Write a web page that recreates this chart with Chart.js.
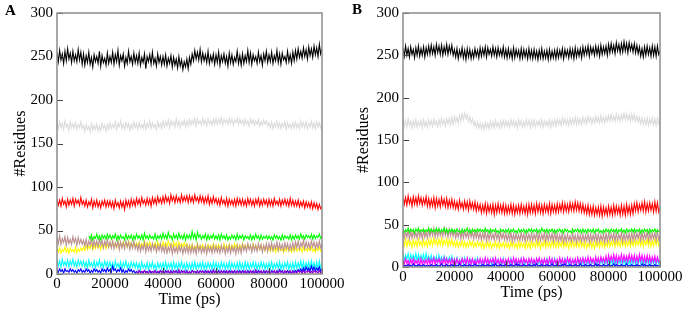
<!DOCTYPE html>
<html>
<head>
<meta charset="utf-8">
<script src="https://cdn.jsdelivr.net/npm/chart.js@4.4.1/dist/chart.umd.min.js"></script>
<style>
  body { margin: 0; background: #fff; }
  #wrap { position: relative; width: 685px; height: 311px; overflow: hidden; }
  canvas { position: absolute; top: 0; }
  .tag { position: absolute; font: bold 15px "Liberation Serif", serif; }
</style>
</head>
<body>
<div id="wrap">
  <canvas id="chartA" width="352" height="311" style="left:0"></canvas>
  <canvas id="chartB" width="345" height="311" style="left:340px"></canvas>
  <div class="tag" style="left:5px;top:2px">A</div>
  <div class="tag" style="left:352px;top:1px">B</div>
</div>
<script>
// sample times (ps), one frame every 500 ps
const TIME = Array.from({ length: 201 }, (_, i) => i * 500);
const xTicks = [0, 20000, 40000, 60000, 80000, 100000];
const yTicks = [0, 50, 100, 150, 200, 250, 300];

// ---- panel A ----
const aBlack = [
  255,244,257,246,253,242,256,245,259,247,254,243,256,245,252,244,258,246,255,241,
  253,240,251,243,255,241,249,238,252,244,250,242,256,239,251,243,248,240,254,242,
  250,243,255,241,252,244,257,240,251,245,253,239,249,242,256,244,250,241,254,243,
  251,242,254,240,249,243,253,236,250,244,252,241,255,242,248,239,253,243,250,240,
  250,241,252,239,248,242,251,238,249,240,247,237,250,239,246,235,244,238,247,236,
  249,241,253,245,257,247,255,246,258,244,254,245,252,243,256,242,251,244,253,241,
  252,243,255,240,251,244,253,242,250,239,254,243,252,241,249,244,256,242,251,240,
  253,242,251,244,257,243,254,241,252,245,250,242,255,244,251,240,253,245,256,243,
  252,244,255,242,251,245,257,243,253,241,254,246,250,243,256,244,252,242,255,245,
  257,247,259,249,256,248,260,250,258,247,261,251,259,249,262,252,260,250,264,253,
  259];
const aGrey = [
  174,167,175,168,173,166,176,169,172,165,175,168,173,167,174,166,172,168,175,167,
  171,164,172,166,170,163,173,165,171,166,172,164,170,165,173,167,171,164,172,166,
  174,167,172,168,175,166,173,169,176,167,172,166,174,168,173,165,172,167,175,168,
  173,166,174,168,172,167,175,166,173,169,176,167,174,168,172,166,175,169,173,167,
  176,169,175,170,177,168,176,171,175,169,178,170,176,168,175,171,177,169,176,170,
  178,171,177,172,179,170,178,173,176,171,179,172,177,170,178,173,176,171,178,172,
  179,172,178,173,180,171,178,174,177,172,179,173,178,171,177,174,179,172,178,173,
  177,171,178,172,176,170,178,173,177,171,176,172,178,170,175,171,177,172,176,170,
  174,168,175,167,173,169,176,168,174,167,173,169,175,166,174,168,172,167,174,168,
  175,168,173,167,176,169,174,168,175,167,173,169,176,168,174,167,175,169,174,168,
  171];
const aRed = [
  86,79,85,78,87,80,84,77,86,79,85,80,87,78,86,81,85,79,88,80,
  84,78,85,77,83,79,86,76,84,78,85,77,83,76,84,79,85,77,84,78,
  84,77,83,75,85,78,82,76,84,77,83,74,85,78,84,77,86,79,85,78,
  87,80,86,79,88,81,85,79,87,80,86,78,88,81,87,80,89,82,87,81,
  89,82,90,83,88,81,91,84,89,82,90,83,88,82,91,83,89,84,90,82,
  90,83,89,82,91,84,88,82,90,83,89,81,88,82,90,80,87,81,89,82,
  87,80,86,79,88,81,85,79,87,78,86,80,85,79,86,78,87,80,86,79,
  86,79,85,78,87,80,86,79,85,78,86,80,87,78,85,79,86,80,85,78,
  86,79,85,78,87,80,84,79,86,78,85,80,86,79,85,78,87,79,85,78,
  84,78,85,77,83,78,84,76,83,77,82,76,83,75,82,76,81,74,80,75,
  77];
const aGreen = [
  null,null,null,null,null,null,null,null,null,null,null,null,null,null,null,null,null,null,null,null,
  null,null,null,null,44,40,45,39,43,41,46,40,44,39,45,41,44,40,46,41,
  45,40,44,41,46,39,44,40,45,41,43,39,46,40,44,41,45,39,44,40,
  46,41,44,40,45,39,47,41,44,40,45,41,43,40,46,39,44,41,45,40,
  47,41,45,40,48,42,44,39,46,41,45,40,47,41,44,40,46,39,45,41,
  45,40,49,41,46,39,48,42,45,40,44,41,46,39,45,40,44,41,46,40,
  44,40,45,39,46,41,44,40,45,39,43,40,45,41,44,39,46,40,44,41,
  45,39,44,41,43,40,45,39,44,40,46,41,44,39,45,40,43,41,44,40,
  44,40,43,39,45,41,44,40,43,39,45,40,44,41,43,40,45,39,44,40,
  45,41,44,40,46,41,44,40,45,42,44,41,46,40,45,41,44,42,46,41,
  44];
const aYellow = [
  29,25,30,24,28,26,31,25,29,24,30,26,28,25,31,24,29,26,30,27,
  31,27,33,28,32,29,34,28,33,29,35,30,33,28,34,30,35,29,34,31,
  36,31,37,32,35,30,38,32,36,31,37,33,35,31,38,32,36,30,37,32,
  36,32,37,31,35,32,38,31,36,33,37,31,35,32,36,30,37,32,35,31,
  37,32,36,31,38,33,35,31,37,32,36,30,37,32,35,31,36,32,35,30,
  33,29,34,28,32,29,35,28,33,30,34,28,32,29,34,30,33,28,35,30,
  33,29,34,30,32,28,35,29,33,30,34,28,33,29,35,30,34,29,33,28,
  35,30,33,29,34,31,32,28,34,29,33,30,31,28,33,29,32,27,31,28,
  30,26,31,27,29,25,31,26,30,27,29,25,30,26,31,27,29,25,30,26,
  31,26,29,27,30,25,31,27,29,26,30,27,31,26,29,25,30,27,31,26,
  29];
const aBrown = [
  42,35,44,34,41,36,43,33,42,35,40,34,43,36,41,33,42,35,40,34,
  39,32,40,31,38,33,41,30,39,32,38,31,40,33,39,30,38,32,40,31,
  37,30,38,29,36,31,39,28,37,30,36,29,38,31,37,28,36,30,38,29,
  34,27,35,26,33,28,36,25,34,27,33,26,35,28,34,25,33,27,35,26,
  32,25,33,24,31,26,34,23,32,25,31,24,33,26,32,23,31,25,33,24,
  32,24,33,25,31,23,34,26,32,24,31,25,33,23,32,26,31,24,33,25,
  32,25,31,24,33,26,32,23,31,25,33,24,32,26,31,23,33,25,32,24,
  34,27,33,26,35,28,33,25,34,27,33,26,35,28,34,25,33,27,35,26,
  35,28,36,27,34,29,37,27,35,28,34,27,36,29,35,27,34,28,36,28,
  37,30,38,29,36,31,39,29,37,30,36,29,38,31,37,29,36,30,38,30,
  34];
const aCyan = [
  16,9,15,8,17,10,14,9,16,8,15,10,17,9,14,8,16,10,15,9,
  15,8,14,7,16,9,13,8,15,7,14,9,16,8,13,7,15,9,14,8,
  14,7,13,6,15,8,12,7,14,6,13,8,15,7,12,6,14,8,13,7,
  13,6,12,5,14,7,11,6,13,5,12,7,14,6,11,5,13,7,12,6,
  13,6,14,5,12,7,13,5,14,6,12,5,13,7,14,6,12,5,13,6,
  12,5,13,6,14,5,12,7,13,6,14,5,12,6,13,7,12,5,14,6,
  13,6,12,5,14,7,13,5,12,6,14,5,13,7,12,6,13,5,14,6,
  12,5,14,6,13,5,12,7,14,6,13,5,12,6,14,7,13,5,12,6,
  13,6,14,5,12,7,13,6,14,5,12,6,13,7,14,5,12,6,13,5,
  14,6,13,7,15,6,14,5,13,7,14,6,15,7,13,6,14,5,15,6,
  12];
const aBlue = [
  5,2,6,3,5,1,6,3,4,2,6,3,5,2,4,1,5,3,6,2,
  4,2,6,3,5,1,4,2,6,3,5,2,4,1,6,3,5,2,7,3,
  5,2,9,4,6,2,5,3,7,2,5,1,4,2,6,3,5,2,4,1,
  3,1,4,2,3,1,4,2,3,1,4,1,3,2,4,1,3,1,4,2,
  3,1,4,2,3,1,4,1,3,2,4,1,3,1,4,2,3,1,4,1,
  2,1,4,2,3,1,3,1,4,2,3,1,4,2,3,1,4,1,3,2,
  3,1,4,1,3,2,4,1,3,1,4,2,3,1,4,1,3,2,4,1,
  4,2,3,1,4,1,3,2,4,1,3,1,4,2,3,1,4,1,3,2,
  3,1,4,2,3,1,4,1,5,2,4,1,3,2,4,1,3,1,4,2,
  4,2,5,3,6,2,7,3,8,4,7,3,9,4,8,3,7,4,8,3,
  6];
const aViolet = [
  null,null,null,null,null,null,null,null,null,null,null,null,null,null,null,null,null,null,null,null,
  null,null,null,null,null,null,null,null,null,null,null,null,null,null,null,null,null,null,null,null,
  null,null,null,null,null,null,null,null,null,null,null,null,null,null,null,null,null,null,null,null,
  3,1,4,1,3,2,4,1,3,1,4,2,3,1,4,1,3,2,4,1,
  4,1,3,2,4,1,3,1,4,2,3,1,5,1,3,2,4,1,3,1,
  3,1,4,2,3,1,4,1,3,2,4,1,3,1,4,2,3,1,5,1,
  4,2,3,1,4,1,3,2,4,1,3,1,4,2,3,1,4,1,3,2,
  3,1,4,1,3,2,4,1,3,1,5,2,3,1,4,1,3,2,4,1,
  4,1,3,2,4,1,3,1,4,2,3,1,4,1,3,2,4,1,3,1,
  3,1,4,2,3,1,4,1,3,2,4,1,3,1,4,2,3,1,4,1,
  3];

// ---- panel B ----
const bBlack = [
  259,249,261,250,258,248,260,251,257,247,259,250,261,249,258,250,260,248,259,251,
  261,251,262,252,260,250,263,253,261,251,262,250,260,252,263,251,261,253,262,250,
  257,248,258,246,256,249,259,247,256,245,258,248,257,246,255,247,258,249,256,247,
  259,249,258,250,260,248,259,251,257,249,260,250,258,248,259,250,257,249,260,248,
  257,247,258,248,256,246,259,247,257,249,256,246,258,247,257,248,256,246,258,247,
  256,246,257,247,255,245,256,247,258,246,255,247,256,245,257,246,255,247,256,246,
  257,247,256,248,258,246,257,249,256,247,258,248,257,246,259,248,257,249,258,247,
  260,250,259,251,261,249,260,252,259,250,261,251,260,249,262,251,260,252,261,250,
  263,253,264,254,262,252,265,255,263,253,264,254,266,255,264,253,265,256,263,254,
  264,253,262,252,260,249,258,248,260,250,261,251,259,249,261,250,260,249,261,251,
  255];
const bGrey = [
  174,166,173,165,175,167,172,164,173,166,174,165,172,167,173,164,174,166,172,165,
  174,167,173,166,175,168,172,166,174,167,176,168,174,166,175,169,176,168,177,169,
  178,171,177,170,179,172,181,174,182,175,180,172,178,170,175,167,172,165,171,164,
  170,163,169,162,171,164,170,163,172,165,171,164,173,166,171,164,172,165,173,166,
  173,166,172,165,174,167,173,166,172,164,174,167,173,165,172,166,174,167,173,165,
  173,166,174,165,172,167,173,166,174,165,173,167,172,166,174,165,173,167,174,166,
  175,168,174,167,176,169,175,168,174,167,176,168,175,169,177,168,176,169,175,168,
  177,170,176,169,178,171,177,169,176,170,178,171,177,170,179,171,177,170,178,172,
  179,172,180,173,178,172,181,173,179,172,180,174,182,174,181,173,180,172,181,173,
  180,172,178,171,177,169,176,168,175,168,176,167,175,169,176,168,175,167,176,169,
  172];
const bRed = [
  83,74,82,73,84,75,81,72,83,74,82,73,84,75,82,73,81,74,83,72,
  81,71,80,72,82,70,81,72,80,71,82,73,80,71,81,70,79,71,80,70,
  78,69,77,68,79,70,76,68,78,69,77,67,78,69,76,68,77,66,75,67,
  74,64,73,65,75,63,74,65,73,64,74,62,73,64,75,65,73,64,74,63,
  73,63,72,64,74,63,73,62,72,64,73,63,74,64,72,63,73,62,74,64,
  74,64,73,63,75,65,74,64,73,63,74,65,73,64,75,63,74,65,73,64,
  75,65,74,66,76,65,75,66,74,65,76,67,75,66,77,67,76,66,75,65,
  74,64,72,63,73,62,71,62,72,61,70,62,71,61,72,60,71,62,70,61,
  72,62,71,61,73,62,72,63,71,61,73,62,72,61,74,63,72,62,73,63,
  75,66,76,65,74,67,76,66,77,65,75,66,76,67,75,65,77,66,76,65,
  71];
const bGreen = [
  45,41,44,42,46,41,45,42,44,40,45,42,46,41,44,42,45,41,44,42,
  46,41,45,42,44,41,46,42,45,41,44,42,46,41,45,40,44,42,45,41,
  44,41,45,42,43,40,45,41,44,42,46,41,44,40,45,42,44,41,45,42,
  45,42,44,41,46,42,44,40,45,41,44,42,45,41,43,40,45,42,44,41,
  44,41,45,40,44,42,45,41,43,40,45,41,44,42,45,40,44,41,45,42,
  45,41,44,42,45,40,44,41,46,42,44,41,45,40,44,42,45,41,44,40,
  44,42,45,41,44,40,45,42,44,41,43,40,45,41,44,42,45,41,44,40,
  45,41,44,40,45,42,44,41,45,40,44,42,45,41,43,40,44,41,45,42,
  44,40,45,42,44,41,45,40,44,42,45,41,44,40,45,41,44,42,45,41,
  45,41,44,42,45,40,44,41,45,42,44,40,45,41,44,42,45,41,44,42,
  43];
const bYellow = [
  31,25,33,24,32,26,30,23,32,25,31,24,33,26,30,24,32,25,31,24,
  32,26,33,25,34,27,32,25,33,26,34,25,32,27,33,24,32,26,33,25,
  30,24,31,23,29,25,31,24,30,23,29,24,31,25,30,23,29,24,30,25,
  29,23,30,22,28,24,30,23,29,22,28,24,30,23,29,22,28,24,29,23,
  29,23,28,22,30,24,29,23,28,22,30,23,29,24,28,22,30,23,29,22,
  30,24,29,23,31,24,30,22,29,24,31,23,30,24,29,23,31,24,30,23,
  30,23,29,24,31,23,30,24,29,22,30,24,31,23,29,24,30,23,31,24,
  29,23,30,22,28,24,30,23,29,22,30,24,29,23,31,24,30,23,29,24,
  31,24,30,25,32,24,31,25,30,24,32,25,31,24,30,25,32,24,31,25,
  32,25,31,26,33,25,32,24,31,26,33,25,32,24,31,25,33,26,32,25,
  28];
const bBrown = [
  43,34,42,35,44,33,42,34,43,35,41,34,44,35,42,33,43,35,42,34,
  45,36,44,37,46,35,44,36,45,37,43,36,46,37,44,35,45,37,44,36,
  43,34,42,35,44,33,42,34,43,35,41,34,44,35,42,33,43,34,41,33,
  41,32,40,33,42,31,40,32,41,33,39,32,42,33,40,31,41,33,40,32,
  40,31,39,32,41,30,39,31,40,32,38,31,41,32,39,30,40,32,39,31,
  40,31,39,32,41,30,40,31,39,32,41,30,40,31,39,32,40,30,41,31,
  39,30,38,31,40,29,38,30,39,31,37,30,40,31,38,29,39,31,38,30,
  39,30,38,31,40,29,39,30,38,31,40,29,39,30,38,31,39,29,40,30,
  40,31,39,32,41,30,40,31,39,32,41,30,40,31,39,32,40,30,41,31,
  41,32,40,33,42,31,41,32,40,33,42,31,41,32,40,33,41,31,42,32,
  37];
const bCyan = [
  15,8,14,9,16,7,15,9,14,8,16,7,15,9,14,8,15,7,16,9,
  13,7,14,6,12,7,13,5,14,7,12,6,13,7,11,5,12,6,13,5,
  10,4,11,3,9,5,10,3,11,4,9,3,10,5,9,3,10,4,11,3,
  9,3,8,2,10,4,8,3,9,2,10,3,8,4,9,2,8,3,10,2,
  8,3,9,2,10,3,8,4,9,2,8,3,10,2,9,3,8,4,9,2,
  9,2,8,3,10,4,9,2,8,3,9,4,10,2,8,3,9,2,10,3,
  8,3,9,2,8,4,10,3,9,2,8,3,9,4,8,2,10,3,9,2,
  9,2,10,3,8,2,9,4,8,3,10,2,9,3,8,4,9,2,10,3,
  8,3,9,2,10,3,8,2,9,4,8,3,10,2,9,3,8,2,9,4,
  9,2,8,3,10,4,9,2,8,3,10,2,9,3,8,4,9,2,10,3,
  6];
const bMagenta = [
  9,3,10,4,8,2,9,4,10,3,8,4,9,2,10,3,8,4,9,3,
  10,3,9,4,11,3,9,5,10,3,9,4,11,3,10,4,9,3,10,4,
  9,3,10,4,8,3,10,5,9,3,11,4,9,3,10,4,8,3,9,4,
  10,4,9,3,11,4,10,3,9,5,10,3,11,4,9,3,10,4,9,3,
  9,3,10,4,9,3,11,4,10,3,9,4,10,3,11,5,9,3,10,4,
  10,4,9,3,10,5,11,4,9,3,10,4,9,3,11,4,10,3,9,4,
  9,3,11,4,10,3,9,4,11,5,10,3,9,4,10,3,11,4,10,5,
  11,4,10,5,12,4,11,5,10,4,12,5,11,4,12,6,11,5,13,5,
  14,6,13,7,15,6,14,5,13,7,15,6,14,7,13,6,15,7,14,6,
  14,6,13,5,15,7,14,6,13,5,14,6,13,5,12,6,13,5,12,6,
  9];
const bBlue = [
  3,1,2,1,3,1,2,1,4,1,2,1,3,1,2,1,3,1,2,1,
  2,1,3,1,2,1,3,1,2,1,4,1,2,1,3,1,2,1,3,1,
  3,1,2,1,4,1,2,1,3,1,2,1,3,1,2,1,4,1,2,1,
  2,1,3,1,2,1,3,1,2,1,3,1,4,1,2,1,3,1,2,1,
  3,1,2,1,3,1,2,1,4,1,3,1,2,1,3,1,2,1,3,1,
  2,1,3,1,4,1,2,1,3,1,2,1,3,1,2,1,4,1,2,1,
  3,1,2,1,3,1,4,1,2,1,3,1,2,1,3,1,2,1,4,1,
  2,1,3,1,2,1,3,1,2,1,4,1,3,1,2,1,3,1,2,1,
  3,1,2,1,4,1,3,1,2,1,3,1,2,1,4,1,2,1,3,1,
  2,1,3,1,2,1,4,1,3,1,2,1,3,1,2,1,3,1,2,1,
  2];

// xmgrace palette
const C = {
  black: '#000000', grey: '#dcdcdc', red: '#ff0000', green: '#00ff00',
  yellow: '#ffff00', brown: '#bc8f8f', cyan: '#00ffff', blue: '#0000ff',
  violet: '#9400d3', magenta: '#ff00ff'
};

function series(values, color) {
  return {
    data: TIME.map((t, i) => ({ x: t, y: values[i] })),
    borderColor: color,
    borderWidth: 1.1,
    pointRadius: 0,
    tension: 0,
    spanGaps: false
  };
}

// frame + inward tick marks, grace style
const framePlugin = {
  id: 'frame',
  afterDatasetsDraw(chart) {
    const { ctx, chartArea: a, scales: { x, y } } = chart;
    ctx.save();
    ctx.strokeStyle = '#444';
    ctx.lineWidth = 1;
    ctx.beginPath();
    xTicks.forEach(v => {
      const px = Math.round(x.getPixelForValue(v)) + 0.5;
      ctx.moveTo(px, a.bottom); ctx.lineTo(px, a.bottom - 6);
    });
    yTicks.forEach(v => {
      const py = Math.round(y.getPixelForValue(v)) + 0.5;
      ctx.moveTo(a.left, py); ctx.lineTo(a.left + 6, py);
    });
    ctx.stroke();
    ctx.strokeStyle = '#8c8c8c';
    ctx.lineWidth = 1.5;
    ctx.strokeRect(a.left, a.top, a.right - a.left, a.bottom - a.top);
    ctx.restore();
  }
};

const serif = '"Liberation Serif", "Times New Roman", serif';

function makeChart(id, datasets, geo) {
  new Chart(document.getElementById(id), {
    type: 'line',
    data: { datasets },
    plugins: [framePlugin],
    options: {
      responsive: false,
      animation: false,
      devicePixelRatio: 1,
      layout: { padding: { left: 0, right: geo.right, top: 12, bottom: 0 } },
      plugins: { legend: { display: false }, tooltip: { enabled: false } },
      scales: {
        x: {
          type: 'linear', min: 0, max: 100000,
          afterBuildTicks: s => { s.ticks = xTicks.map(v => ({ value: v })); },
          afterFit: s => { s.height = geo.xh; },
          grid: { display: false, drawTicks: false },
          border: { display: false },
          ticks: { color: '#000', padding: 1, maxRotation: 0, autoSkip: false, callback: v => String(v), font: { family: serif, size: 15 } },
          title: { display: true, text: 'Time (ps)', color: '#000', padding: { top: 0, bottom: geo.xtp }, font: { family: serif, size: 16 } }
        },
        y: {
          min: 0, max: 300,
          afterBuildTicks: s => { s.ticks = yTicks.map(v => ({ value: v })); },
          afterFit: s => { s.width = geo.yw; },
          grid: { display: false, drawTicks: false },
          border: { display: false },
          ticks: { color: '#000', padding: 4, font: { family: serif, size: 15 } },
          title: { display: true, text: '#Residues', color: '#000', padding: { top: geo.ytp, bottom: 0 }, font: { family: serif, size: 16 } }
        }
      }
    }
  });
}

makeChart('chartA', [
  series(aViolet, C.violet),
  series(aBlue, C.blue),
  series(aCyan, C.cyan),
  series(aGreen, C.green),
  series(aBrown, C.brown),
  series(aYellow, C.yellow),
  series(aRed, C.red),
  series(aGrey, C.grey),
  series(aBlack, C.black)
], { right: 30, xh: 37, xtp: 2, yw: 57, ytp: 11 });

makeChart('chartB', [
  series(bBlue, C.blue),
  series(bMagenta, C.magenta),
  series(bCyan, C.cyan),
  series(bGreen, C.green),
  series(bBrown, C.brown),
  series(bYellow, C.yellow),
  series(bRed, C.red),
  series(bGrey, C.grey),
  series(bBlack, C.black)
], { right: 25, xh: 44, xtp: 9, yw: 63, ytp: 14 });
</script>
</body>
</html>
